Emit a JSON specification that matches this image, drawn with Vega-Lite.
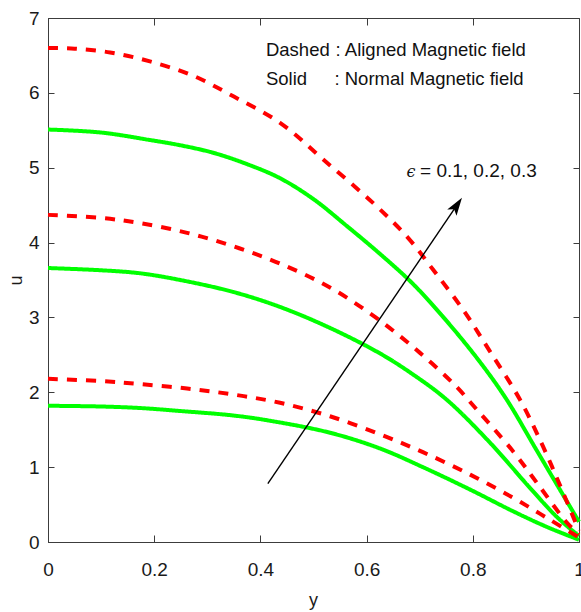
{
  "$schema": "https://vega.github.io/schema/vega-lite/v6.json",
  "width": 531,
  "height": 524,
  "autosize": {"type": "none"},
  "padding": {"left": 48, "top": 18, "right": 2, "bottom": 70},
  "background": "white",
  "config": {
    "font": "Liberation Sans",
    "view": {"stroke": "#3c3c3c", "strokeWidth": 1},
    "axis": {
      "grid": false,
      "domainColor": "#3c3c3c",
      "tickColor": "#3c3c3c",
      "labelColor": "#1a1a1a",
      "labelFont": "Liberation Sans",
      "labelFontSize": 19,
      "titleFont": "Liberation Sans",
      "titleFontSize": 18,
      "titleFontWeight": "normal",
      "titleColor": "#1a1a1a"
    }
  },
  "datasets": {
    "curves": [
      {"field": "Normal", "eps": 0.1, "y": 0, "u": 1.82},
      {"field": "Normal", "eps": 0.1, "y": 0.1, "u": 1.81},
      {"field": "Normal", "eps": 0.1, "y": 0.173, "u": 1.79},
      {"field": "Normal", "eps": 0.1, "y": 0.249, "u": 1.75},
      {"field": "Normal", "eps": 0.1, "y": 0.349, "u": 1.69},
      {"field": "Normal", "eps": 0.1, "y": 0.418, "u": 1.62},
      {"field": "Normal", "eps": 0.1, "y": 0.531, "u": 1.46},
      {"field": "Normal", "eps": 0.1, "y": 0.625, "u": 1.25},
      {"field": "Normal", "eps": 0.1, "y": 0.706, "u": 1.0},
      {"field": "Normal", "eps": 0.1, "y": 0.795, "u": 0.7},
      {"field": "Normal", "eps": 0.1, "y": 0.876, "u": 0.41},
      {"field": "Normal", "eps": 0.1, "y": 0.94, "u": 0.2},
      {"field": "Normal", "eps": 0.1, "y": 1, "u": 0.03},

      {"field": "Normal", "eps": 0.2, "y": 0, "u": 3.66},
      {"field": "Normal", "eps": 0.2, "y": 0.1, "u": 3.63},
      {"field": "Normal", "eps": 0.2, "y": 0.173, "u": 3.59},
      {"field": "Normal", "eps": 0.2, "y": 0.249, "u": 3.5},
      {"field": "Normal", "eps": 0.2, "y": 0.349, "u": 3.34},
      {"field": "Normal", "eps": 0.2, "y": 0.437, "u": 3.14},
      {"field": "Normal", "eps": 0.2, "y": 0.531, "u": 2.86},
      {"field": "Normal", "eps": 0.2, "y": 0.625, "u": 2.52},
      {"field": "Normal", "eps": 0.2, "y": 0.687, "u": 2.24},
      {"field": "Normal", "eps": 0.2, "y": 0.751, "u": 1.9},
      {"field": "Normal", "eps": 0.2, "y": 0.832, "u": 1.33},
      {"field": "Normal", "eps": 0.2, "y": 0.908, "u": 0.72},
      {"field": "Normal", "eps": 0.2, "y": 0.959, "u": 0.33},
      {"field": "Normal", "eps": 0.2, "y": 1, "u": 0.08},

      {"field": "Normal", "eps": 0.3, "y": 0, "u": 5.51},
      {"field": "Normal", "eps": 0.3, "y": 0.1, "u": 5.47},
      {"field": "Normal", "eps": 0.3, "y": 0.192, "u": 5.37},
      {"field": "Normal", "eps": 0.3, "y": 0.249, "u": 5.3},
      {"field": "Normal", "eps": 0.3, "y": 0.311, "u": 5.2},
      {"field": "Normal", "eps": 0.3, "y": 0.374, "u": 5.05},
      {"field": "Normal", "eps": 0.3, "y": 0.437, "u": 4.86},
      {"field": "Normal", "eps": 0.3, "y": 0.5, "u": 4.58},
      {"field": "Normal", "eps": 0.3, "y": 0.563, "u": 4.22},
      {"field": "Normal", "eps": 0.3, "y": 0.625, "u": 3.85},
      {"field": "Normal", "eps": 0.3, "y": 0.687, "u": 3.45},
      {"field": "Normal", "eps": 0.3, "y": 0.751, "u": 2.95},
      {"field": "Normal", "eps": 0.3, "y": 0.814, "u": 2.4},
      {"field": "Normal", "eps": 0.3, "y": 0.864, "u": 1.9},
      {"field": "Normal", "eps": 0.3, "y": 0.919, "u": 1.24},
      {"field": "Normal", "eps": 0.3, "y": 0.964, "u": 0.7},
      {"field": "Normal", "eps": 0.3, "y": 1, "u": 0.27},

      {"field": "Aligned", "eps": 0.1, "y": 0, "u": 2.18},
      {"field": "Aligned", "eps": 0.1, "y": 0.1, "u": 2.15},
      {"field": "Aligned", "eps": 0.1, "y": 0.173, "u": 2.11},
      {"field": "Aligned", "eps": 0.1, "y": 0.262, "u": 2.05},
      {"field": "Aligned", "eps": 0.1, "y": 0.349, "u": 1.97},
      {"field": "Aligned", "eps": 0.1, "y": 0.437, "u": 1.86},
      {"field": "Aligned", "eps": 0.1, "y": 0.531, "u": 1.68},
      {"field": "Aligned", "eps": 0.1, "y": 0.625, "u": 1.44},
      {"field": "Aligned", "eps": 0.1, "y": 0.706, "u": 1.2},
      {"field": "Aligned", "eps": 0.1, "y": 0.795, "u": 0.9},
      {"field": "Aligned", "eps": 0.1, "y": 0.876, "u": 0.59},
      {"field": "Aligned", "eps": 0.1, "y": 0.94, "u": 0.32},
      {"field": "Aligned", "eps": 0.1, "y": 1, "u": 0.06},

      {"field": "Aligned", "eps": 0.2, "y": 0, "u": 4.37},
      {"field": "Aligned", "eps": 0.2, "y": 0.1, "u": 4.33},
      {"field": "Aligned", "eps": 0.2, "y": 0.173, "u": 4.26},
      {"field": "Aligned", "eps": 0.2, "y": 0.262, "u": 4.13},
      {"field": "Aligned", "eps": 0.2, "y": 0.349, "u": 3.95},
      {"field": "Aligned", "eps": 0.2, "y": 0.437, "u": 3.72},
      {"field": "Aligned", "eps": 0.2, "y": 0.531, "u": 3.4},
      {"field": "Aligned", "eps": 0.2, "y": 0.619, "u": 2.99},
      {"field": "Aligned", "eps": 0.2, "y": 0.7, "u": 2.53},
      {"field": "Aligned", "eps": 0.2, "y": 0.77, "u": 2.07},
      {"field": "Aligned", "eps": 0.2, "y": 0.795, "u": 1.87},
      {"field": "Aligned", "eps": 0.2, "y": 0.876, "u": 1.21},
      {"field": "Aligned", "eps": 0.2, "y": 0.926, "u": 0.74},
      {"field": "Aligned", "eps": 0.2, "y": 0.977, "u": 0.26},
      {"field": "Aligned", "eps": 0.2, "y": 1, "u": 0.1},

      {"field": "Aligned", "eps": 0.3, "y": 0, "u": 6.6},
      {"field": "Aligned", "eps": 0.3, "y": 0.05, "u": 6.59},
      {"field": "Aligned", "eps": 0.3, "y": 0.117, "u": 6.54},
      {"field": "Aligned", "eps": 0.3, "y": 0.192, "u": 6.42},
      {"field": "Aligned", "eps": 0.3, "y": 0.273, "u": 6.23},
      {"field": "Aligned", "eps": 0.3, "y": 0.35, "u": 5.95},
      {"field": "Aligned", "eps": 0.3, "y": 0.437, "u": 5.6},
      {"field": "Aligned", "eps": 0.3, "y": 0.52, "u": 5.1},
      {"field": "Aligned", "eps": 0.3, "y": 0.612, "u": 4.53},
      {"field": "Aligned", "eps": 0.3, "y": 0.676, "u": 4.08},
      {"field": "Aligned", "eps": 0.3, "y": 0.725, "u": 3.64},
      {"field": "Aligned", "eps": 0.3, "y": 0.782, "u": 3.1},
      {"field": "Aligned", "eps": 0.3, "y": 0.832, "u": 2.55},
      {"field": "Aligned", "eps": 0.3, "y": 0.889, "u": 1.9},
      {"field": "Aligned", "eps": 0.3, "y": 0.932, "u": 1.28},
      {"field": "Aligned", "eps": 0.3, "y": 0.964, "u": 0.76},
      {"field": "Aligned", "eps": 0.3, "y": 1, "u": 0.15}
    ],
    "arrow": [
      {"x0": 0.414, "u0": 0.78, "x1": 0.7701, "u1": 4.5}
    ],
    "head": [
      {"x": 0.7701, "u": 4.5}
    ],
    "keyLabels": [
      {"x": 0.4105, "u": 6.49, "text": "Dashed"},
      {"x": 0.4105, "u": 6.1, "text": "Solid"}
    ],
    "keyText": [
      {"x": 0.5415, "u": 6.49, "text": ": Aligned Magnetic field"},
      {"x": 0.5395, "u": 6.1, "text": ": Normal Magnetic field"}
    ],
    "epsSymbol": [
      {"x": 0.675, "u": 4.87, "text": "ϵ"}
    ],
    "epsValues": [
      {"x": 0.7006, "u": 4.87, "text": "= 0.1, 0.2, 0.3"}
    ]
  },
  "resolve": {"axis": {"x": "independent", "y": "independent"}},
  "layer": [
    {
      "data": {"name": "curves"},
      "mark": {"type": "line", "strokeWidth": 4, "interpolate": "catmull-rom"},
      "encoding": {
        "x": {
          "field": "y", "type": "quantitative",
          "scale": {"domain": [0, 1], "nice": false},
          "axis": {
            "orient": "bottom", "values": [0, 0.2, 0.4, 0.6, 0.8, 1], "format": "~g",
            "tickSize": -7, "labelPadding": 25, "labelFlush": false,
            "title": "y", "titleX": 265, "titleY": 58, "titleBaseline": "middle", "titleAlign": "center"
          }
        },
        "y": {
          "field": "u", "type": "quantitative",
          "scale": {"domain": [0, 7], "nice": false},
          "axis": {
            "orient": "left", "values": [0, 1, 2, 3, 4, 5, 6, 7], "format": "d",
            "tickSize": -6, "labelPadding": 15,
            "title": "u", "titleX": -32, "titleY": 262, "titleAngle": -90,
            "titleBaseline": "middle", "titleAlign": "center"
          }
        },
        "color": {
          "field": "field", "type": "nominal",
          "scale": {"domain": ["Aligned", "Normal"], "range": ["#ff0000", "#00ff00"]},
          "legend": null
        },
        "strokeDash": {
          "field": "field", "type": "nominal",
          "scale": {"domain": ["Aligned", "Normal"], "range": [[10, 9], [1, 0]]},
          "legend": null
        },
        "detail": {"field": "eps", "type": "nominal"}
      }
    },
    {
      "data": {"name": "arrow"},
      "mark": {"type": "rule", "color": "black", "strokeWidth": 1.4},
      "encoding": {
        "x": {
          "field": "x0", "type": "quantitative",
          "scale": {"domain": [0, 1], "nice": false},
          "axis": {
            "orient": "top", "values": [0.2, 0.4, 0.6, 0.8], "labels": false,
            "tickSize": -7, "title": null
          }
        },
        "y": {
          "field": "u0", "type": "quantitative",
          "scale": {"domain": [0, 7], "nice": false},
          "axis": {
            "orient": "right", "values": [1, 2, 3, 4, 5, 6], "labels": false,
            "tickSize": -6, "title": null
          }
        },
        "x2": {"field": "x1"},
        "y2": {"field": "u1"}
      }
    },
    {
      "data": {"name": "head"},
      "mark": {
        "type": "point", "filled": true, "color": "black", "opacity": 1,
        "shape": "M0,-1 L0.62,1 L0,0.55 L-0.62,1 Z", "size": 324, "angle": 34.15
      },
      "encoding": {
        "x": {"field": "x", "type": "quantitative", "axis": null},
        "y": {"field": "u", "type": "quantitative", "axis": null}
      }
    },
    {
      "data": {"name": "keyLabels"},
      "mark": {"type": "text", "align": "left", "baseline": "alphabetic", "fontSize": 18.5, "color": "#111111"},
      "encoding": {
        "x": {"field": "x", "type": "quantitative", "axis": null},
        "y": {"field": "u", "type": "quantitative", "axis": null},
        "text": {"field": "text"}
      }
    },
    {
      "data": {"name": "keyText"},
      "mark": {"type": "text", "align": "left", "baseline": "alphabetic", "fontSize": 18.5, "color": "#111111"},
      "encoding": {
        "x": {"field": "x", "type": "quantitative", "axis": null},
        "y": {"field": "u", "type": "quantitative", "axis": null},
        "text": {"field": "text"}
      }
    },
    {
      "data": {"name": "epsSymbol"},
      "mark": {"type": "text", "align": "left", "baseline": "alphabetic", "fontSize": 16, "fontStyle": "italic", "font": "DejaVu Serif", "color": "#111111"},
      "encoding": {
        "x": {"field": "x", "type": "quantitative", "axis": null},
        "y": {"field": "u", "type": "quantitative", "axis": null},
        "text": {"field": "text"}
      }
    },
    {
      "data": {"name": "epsValues"},
      "mark": {"type": "text", "align": "left", "baseline": "alphabetic", "fontSize": 19, "color": "#111111"},
      "encoding": {
        "x": {"field": "x", "type": "quantitative", "axis": null},
        "y": {"field": "u", "type": "quantitative", "axis": null},
        "text": {"field": "text"}
      }
    }
  ]
}
